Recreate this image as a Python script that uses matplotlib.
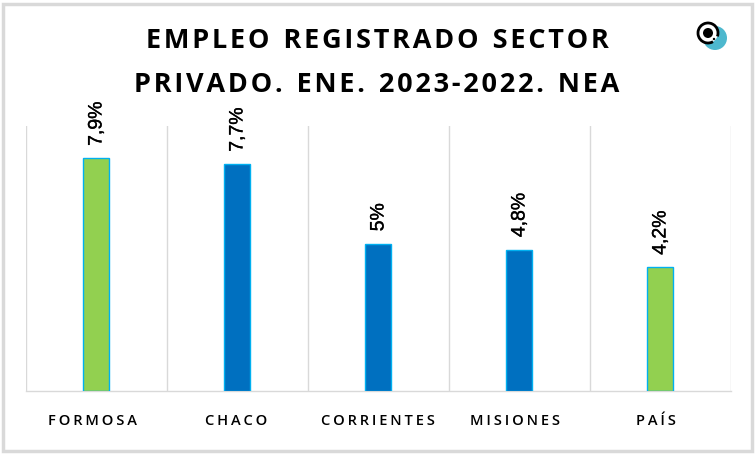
#!/usr/bin/env python3
"""Empleo registrado sector privado, NEA: bars with rotated value labels."""

import matplotlib.patheffects as pe
import matplotlib.pyplot as plt
from matplotlib.patches import Arc, Circle, Rectangle
from matplotlib.transforms import ScaledTranslation

provincias = ["FORMOSA", "CHACO", "CORRIENTES", "MISIONES", "PAÍS"]
valores = [7.9, 7.7, 5.0, 4.8, 4.2]
etiquetas = ["7,9%", "7,7%", "5%", "4,8%", "4,2%"]
colores = ["#92D050", "#0070C0", "#0070C0", "#0070C0", "#92D050"]
titulo = ["EMPLEO REGISTRADO SECTOR", "PRIVADO. ENE. 2023-2022. NEA"]

W, H = 756, 456
GRIS = "#D9D9D9"


def espaciado(texto, sep):
    # matplotlib has no letter-spacing, thin spaces do the job
    return " ".join(sep.join(palabra) for palabra in texto.split(" "))


fig = plt.figure(figsize=(W / 100, H / 100), dpi=100)

# outer frame
fig.add_artist(Rectangle((3 / W, 1 - 452 / H), 749 / W, 447 / H, transform=fig.transFigure,
                         fill=False, ec=GRIS, lw=2.5))

ax = fig.add_axes([25.5 / W, 1 - 392 / H, 705 / W, 265 / H])
pos = range(len(valores))
ax.bar(pos, valores, width=0.18, color=colores, edgecolor="#00B0F0", linewidth=1.0, zorder=3)

ax.set_xlim(-0.5, 4.5)
ax.set_ylim(0, 9)
ax.set_yticks([])
ax.set_xticks(list(pos))
ax.set_xticklabels([espaciado(p, "\u2009") for p in provincias], fontsize=10.5,
                   family="Open Sans", fontweight="semibold", color="black")
ax.tick_params(axis="x", length=0, pad=16)

# the labels sit a little left of the bars in the original
for lab, dx in zip(ax.get_xticklabels(), [-4, -1, 0, -4, -4]):
    lab.set_transform(lab.get_transform() + ScaledTranslation(dx / 100, 0, fig.dpi_scale_trans))

for x in [-0.5, 0.5, 1.5, 2.5, 3.5, 4.5]:
    ax.axvline(x, color=GRIS, lw=1, zorder=1)
for lado in ["top", "left", "right"]:
    ax.spines[lado].set_visible(False)
ax.spines["bottom"].set_color(GRIS)
ax.spines["bottom"].set_linewidth(1)

for x, v, e in zip(pos, valores, etiquetas):
    ax.annotate(e, (x, v), xytext=(0.7, 9), textcoords="offset points", rotation=90,
                ha="center", va="bottom", fontsize=14, family="Liberation Sans",
                annotation_clip=False,
                path_effects=[pe.withStroke(linewidth=0.25, foreground="black")])

for i, linea in enumerate(titulo):
    fig.text(377 / W, 1 - (41 + 44 * i) / H, espaciado(linea, "\u200a").replace(" ", "  "),
             ha="center", va="center", fontsize=19.5, fontweight="bold",
             family="Open Sans", color="black")

# logo
logo = fig.add_axes([690 / W, 1 - 58 / H, 40 / W, 40 / H])
logo.set_xlim(690, 730)
logo.set_ylim(58, 18)
logo.axis("off")
logo.add_patch(Circle((715, 39), 12, color="#4DB8CE", lw=0))
logo.add_patch(Circle((708, 34), 10, fc="white", lw=0))
logo.add_patch(Arc((708, 34), 20, 20, theta1=60, theta2=380, ec="black", lw=2))
logo.add_patch(Circle((708, 34), 5, color="black", lw=0))
logo.add_patch(Circle((714, 40), 1.2, color="black", lw=0))

fig.savefig("out.png", dpi=100)
